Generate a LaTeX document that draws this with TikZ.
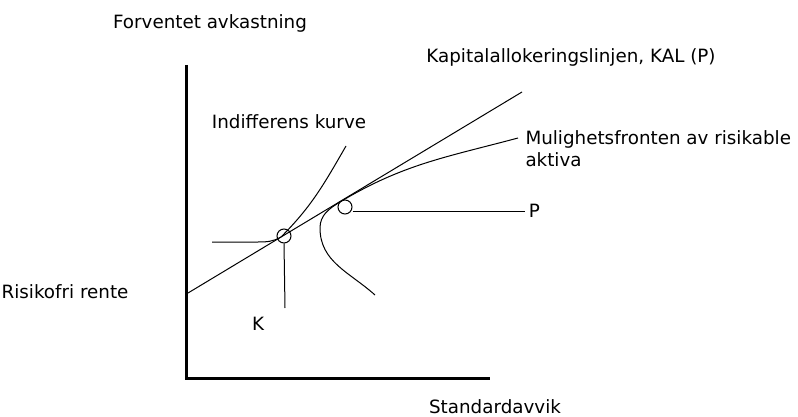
\documentclass[tikz,border=0pt]{standalone}
\usepackage{fontspec}
\setmainfont{DejaVu Sans}
\usetikzlibrary{positioning}

\begin{document}
\begin{tikzpicture}[x=1pt, y=1pt, line width=1pt, font=\fontsize{18.3}{22}\selectfont]
			\useasboundingbox (0,0) rectangle (798,416);
			% axes
			\coordinate (ytop) at (186,351);
			\coordinate (O) at (186,38);
			\coordinate (xend) at (490,38);
			\draw[line width=3pt] (ytop) -- (O) -- (xend);
			\node (ylab) at (210,393) {Forventet avkastning};
			\node (xlab) [anchor=base, inner sep=1pt] at (495,3) {Standardavvik};
			\node (rf) at (65,124) {Risikofri rente};
			% capital allocation line
			\coordinate (kalstart) at (188,123);
			\coordinate (kalend) at (522,324);
			\draw (kalstart) -- (kalend);
			\node (kal) at (571,359) {Kapitalallokeringslinjen, KAL (P)};
			% marked points
			\node (Kpt) [draw, circle, minimum size=14pt, inner sep=0pt] at (284,180) {};
			\node (Ppt) [draw, circle, minimum size=14pt, inner sep=0pt] at (345,209) {};
			\node (K) at (258,92) {K};
			\coordinate (Kfoot) at (285,108);
			\draw (Kpt.south) -- (Kfoot);
			\node (P) [anchor=west] at (525,205) {P};
			\draw (Ppt.east |- P.west) -- (P.west);
			% indifference curve
			\coordinate (ikstart) at (212,174);
			\coordinate (iktop) at (346,270);
			\draw (ikstart) -- (258,174) to[out=0, in=210] (281,179) to[out=45, in=240] (iktop);
			\node (ik) at (289,294) {Indifferens kurve};
			% efficient frontier
			\coordinate (mfstart) at (375,121);
			\coordinate (mfend) at (518,278);
			\draw (mfstart) to[out=138, in=-90] (320,188) to[out=90, in=211] (340,214) to[out=31, in=195] (mfend);
			\node (mf) [anchor=west, align=left, inner sep=3pt] at (522,267) {Mulighetsfronten av risikable\\aktiva};
		\end{tikzpicture}
\end{document}
